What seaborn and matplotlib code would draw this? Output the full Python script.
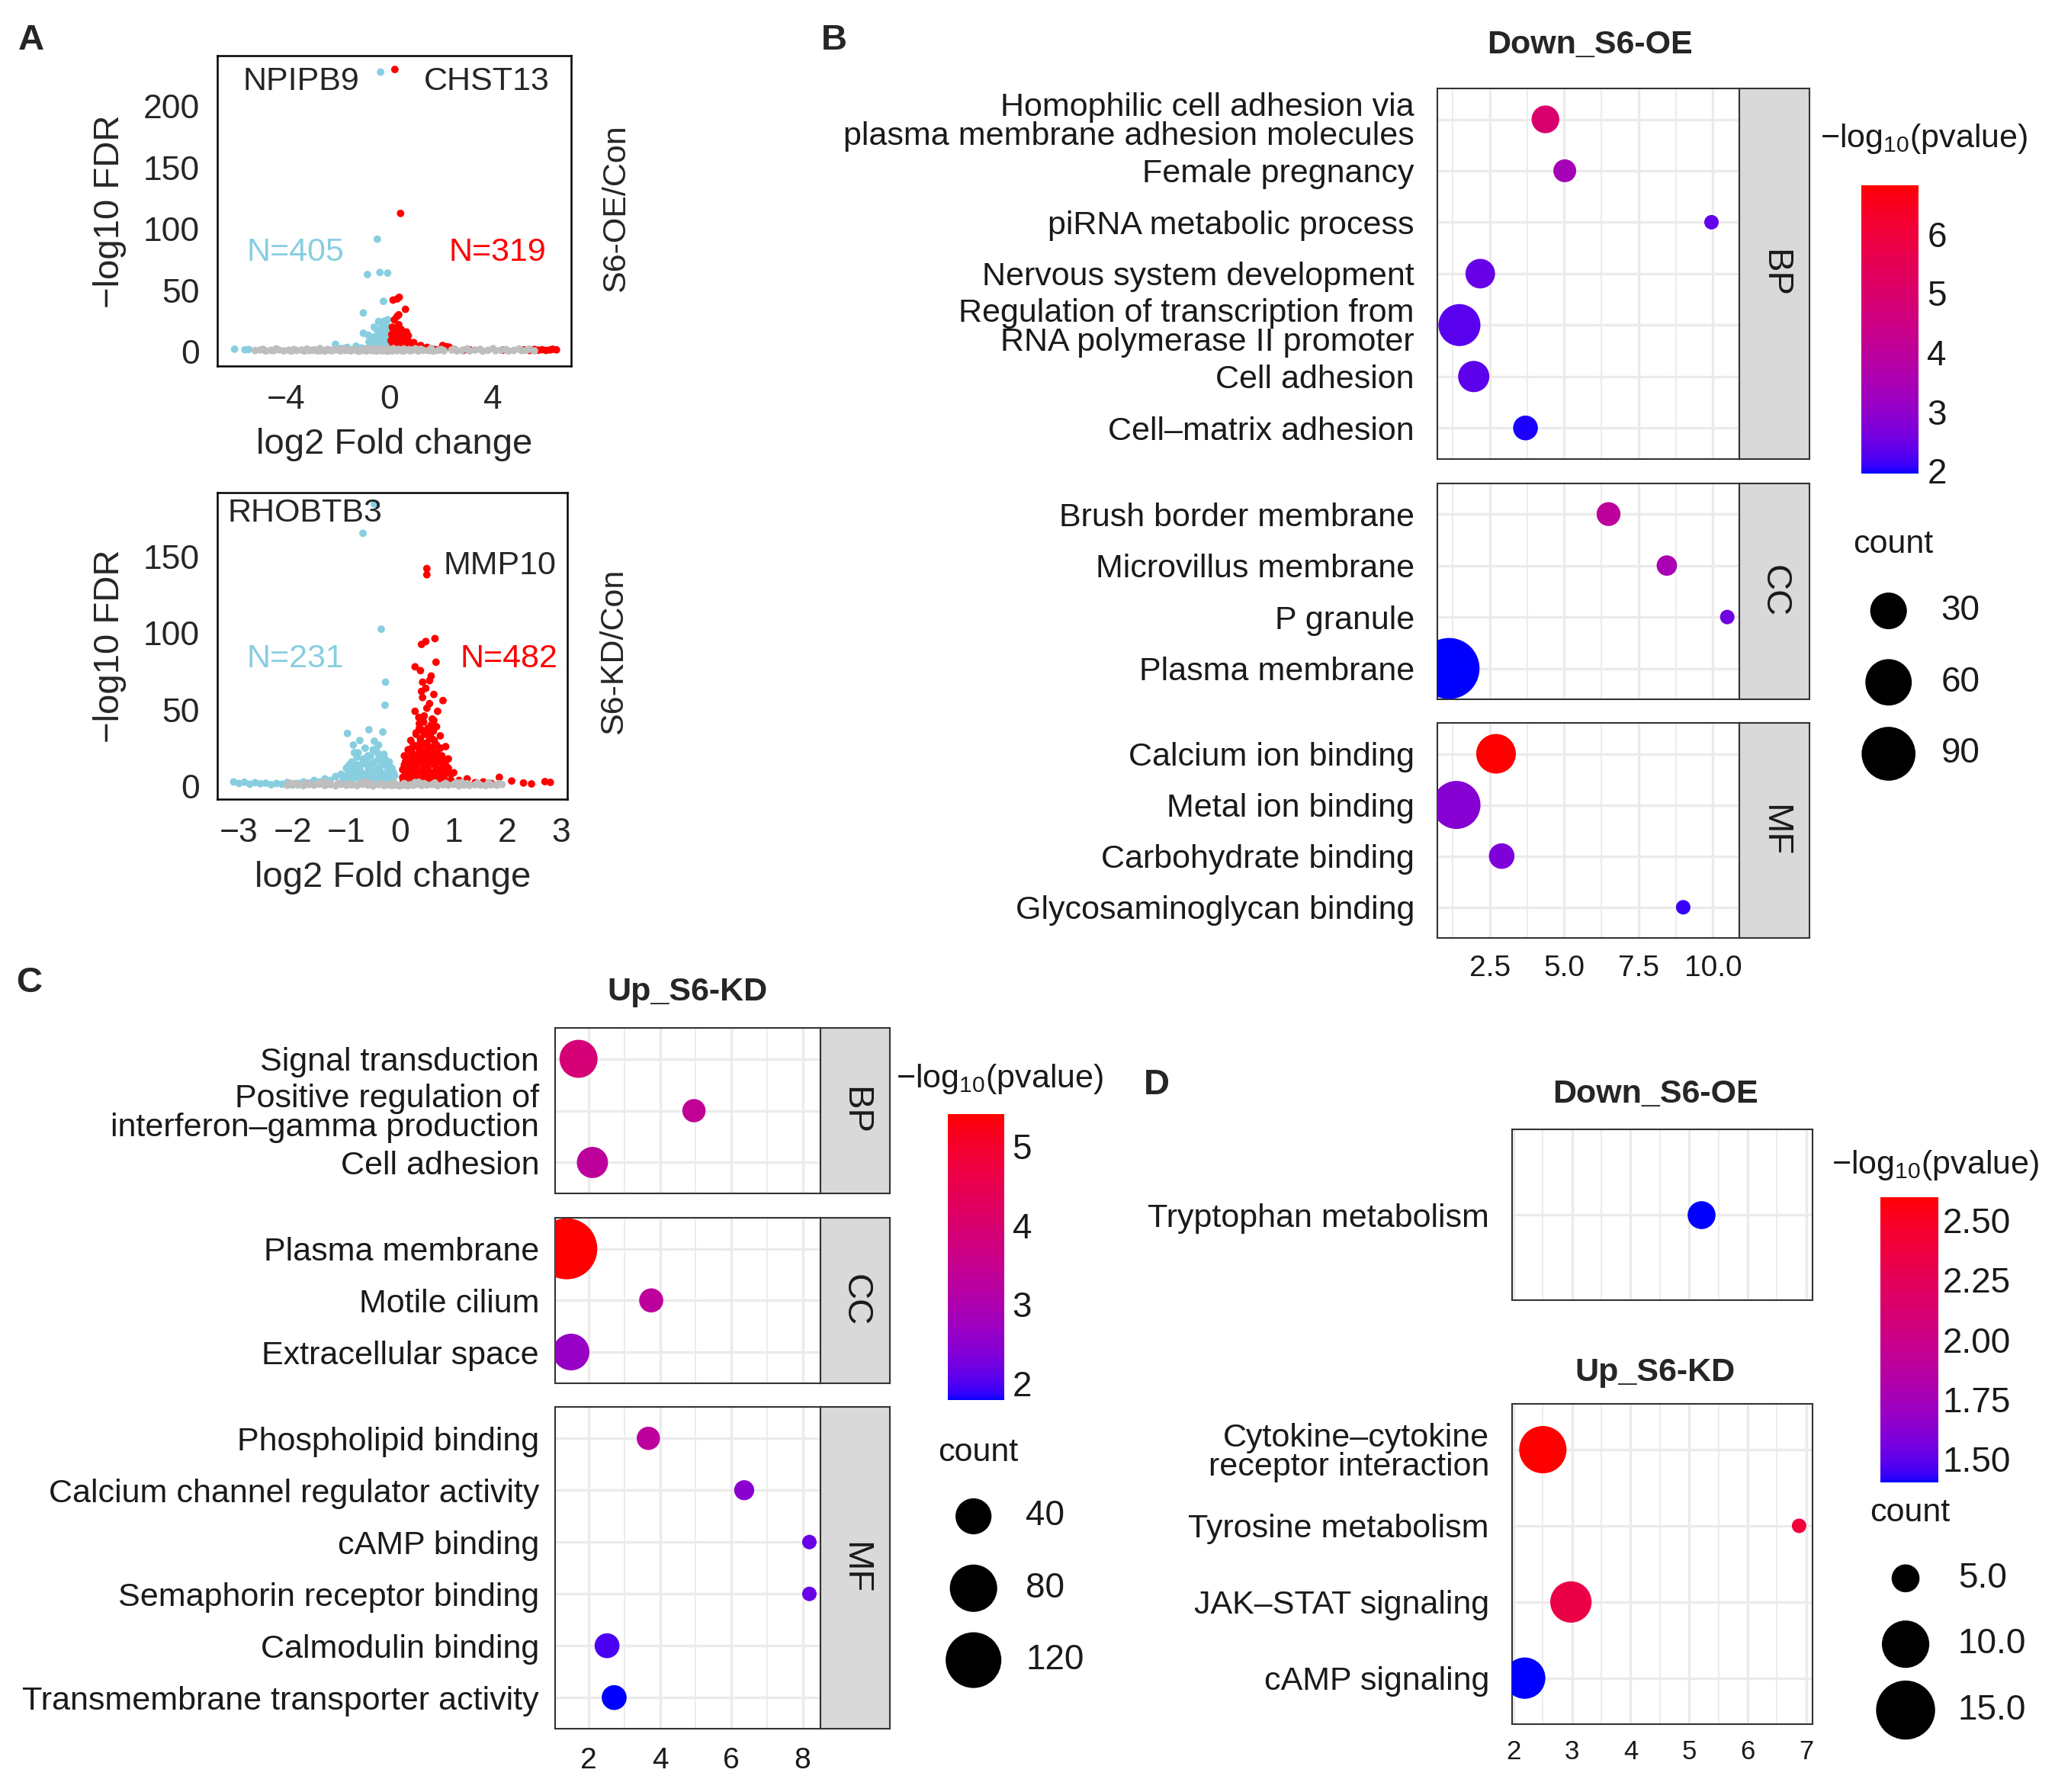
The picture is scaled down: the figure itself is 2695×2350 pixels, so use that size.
import numpy as np
import pandas as pd
import matplotlib
matplotlib.use("Agg")
import matplotlib.pyplot as plt
import seaborn as sns
from matplotlib.colors import ListedColormap, Normalize
from matplotlib.cm import ScalarMappable

sns.set_style("white")
plt.rcParams["font.family"] = ["Liberation Sans", "DejaVu Sans"]
plt.rcParams["mathtext.fontset"] = "custom"
plt.rcParams["mathtext.rm"] = "Liberation Sans"

# ---------------- Panel A: volcano points (log2FC, -log10 FDR) ----------------
OE_NS_X = [-5.2, -5.0, -4.8, -4.6, -4.5, -4.3, -4.1, -3.9, -3.8, -3.6,
           -3.4, -3.3, -3.1, -2.9, -2.8, -2.6, -2.5, -2.3, -2.2, -2.0,
           -1.9, -1.7, -1.6, -1.5, -1.3, -1.2, -1.1, -1.0, -0.9, -0.8,
           -0.7, -0.6, -0.5, -0.4, -0.3, -0.2, -0.1, 0.0, 0.1, 0.2,
           0.3, 0.4, 0.5, 0.6, 0.8, 0.9, 1.1, 1.3, 1.5, 1.7,
           1.9, 2.1, 2.4, 2.6, 2.8, 3.1, 3.3, 3.6, 3.8, 4.1,
           4.3, 4.6, 4.8, 5.1, 5.3, 5.6,
           -4.9, -4.4, -3.7, -3.2, -2.7, -2.4, -2.1, -1.8, -1.4, -0.95,
           -0.65, -0.45, -0.25, -0.05, 0.15, 0.35, 0.55, 0.75, 1.0, 1.2,
           1.6, 2.0, 2.5, 3.0, 3.5, 4.0, 4.5, 5.0, 5.4, -0.85]
OE_NS_Y = [0.9, 1.4, 0.6, 1.1, 0.8, 1.5, 0.7, 1.2, 0.5, 1.0,
           1.3, 0.6, 0.9, 1.4, 0.7, 1.1, 0.5, 1.2, 0.8, 1.5,
           0.6, 1.0, 1.3, 0.7, 1.1, 0.4, 0.9, 1.2, 0.6, 1.4,
           0.8, 1.0, 0.5, 1.3, 0.7, 1.1, 0.4, 0.9, 0.6, 1.2,
           0.8, 1.4, 0.5, 1.0, 0.7, 1.3, 0.6, 1.1, 0.9, 0.5,
           1.2, 0.8, 1.4, 0.6, 1.0, 0.7, 1.3, 0.5, 1.1, 0.8,
           1.2, 0.6, 1.0, 0.9, 1.3, 0.7,
           1.9, 2.3, 1.7, 2.1, 2.5, 1.8, 2.2, 2.6, 1.9, 2.4,
           2.0, 2.7, 1.8, 2.3, 2.5, 1.9, 2.2, 1.7, 2.4, 2.0,
           2.6, 1.8, 2.1, 2.3, 1.9, 2.5, 1.7, 2.2, 2.0, 2.1]
OE_DN_X = [-6.0, -5.6, -5.45, -3.0, -2.7, -2.3, -2.1, -1.9, -1.65, -1.5,
           -1.3, -1.1, -1.02, -1.02, -0.9, -0.86, -0.83, -0.8, -0.75, -0.7,
           -0.65, -0.6, -0.55, -0.5, -0.48, -0.45, -0.43, -0.4, -0.38, -0.35,
           -0.3, -0.28, -0.25, -0.24, -0.2, -0.18, -0.15, -0.12, -0.1, -0.08,
           -0.06, -0.35, -0.7, -0.6, -0.5, -0.3, -0.2, -0.15, -0.1, -0.4,
           -0.25, -0.55, -0.05, -0.05, -0.08, -0.12, -0.18, -0.22, -0.27, -0.33,
           -0.38, -0.45, -0.5, -0.62, -0.68, -0.72, -0.02, -0.03]
OE_DN_Y = [2.0, 1.5, 1.8, 1.2, 0.9, 1.0, 6.0, 2.5, 3.5, 1.5,
           4.5, 3.0, 31.5, 15.0, 2.0, 62.8, 13.5, 8.0, 5.0, 10.0,
           6.5, 12.0, 4.0, 18.0, 91.6, 9.0, 24.6, 15.0, 64.5, 7.0,
           20.0, 12.0, 3.0, 41.0, 16.0, 8.0, 22.0, 11.0, 5.0, 64.0,
           14.0, 227.7, 2.5, 20.0, 11.0, 6.0, 25.0, 13.0, 19.0, 4.5,
           9.0, 7.5, 20.0, 8.0, 26.0, 17.0, 21.0, 18.0, 15.0, 14.0,
           10.0, 13.0, 6.0, 8.0, 5.0, 3.5, 11.0, 3.5]
OE_UP_X = [0.2, 0.42, 0.29, 0.37, 0.13, 0.61, 0.29, 0.35, 0.21, 0.4,
           0.45, 0.1, 0.15, 0.25, 0.3, 0.5, 0.55, 0.6, 0.7, 0.75,
           0.8, 0.85, 0.93, 1.0, 1.1, 1.2, 1.3, 1.45, 1.57, 1.7,
           1.85, 2.05, 2.2, 2.3, 2.5, 2.85, 3.1, 4.37, 5.2, 5.4,
           5.6, 5.75, 5.9, 6.05, 6.2, 6.3, 6.45, 0.12, 0.08, 0.18,
           0.05, 0.22, 0.65, 0.35, 0.15, 0.25, 0.33, 0.45, 0.62, 0.72,
           0.9, 0.05]
OE_UP_Y = [229.8, 112.6, 43.0, 44.3, 42.0, 34.5, 28.8, 30.0, 17.0, 15.5,
           18.0, 20.0, 12.0, 10.0, 6.0, 8.0, 12.0, 5.0, 9.0, 4.0,
           7.0, 3.0, 7.4, 4.5, 3.0, 5.0, 2.5, 3.5, 1.2, 2.0,
           1.5, 5.0, 4.0, 3.7, 2.0, 1.0, 1.5, 1.2, 1.5, 1.0,
           1.8, 1.2, 1.6, 1.0, 1.4, 2.0, 1.5, 5.0, 14.0, 26.0,
           9.0, 3.0, 16.0, 22.0, 18.0, 14.0, 11.0, 6.0, 10.0, 13.0,
           5.0, 3.0]

KD_NS_X = [-2.1, -2.0, -1.9, -1.8, -1.7, -1.6, -1.5, -1.4, -1.3, -1.2,
           -1.1, -1.0, -0.9, -0.8, -0.7, -0.6, -0.5, -0.4, -0.3, -0.25,
           -0.2, -0.15, -0.1, -0.05, 0.0, 0.05, 0.1, 0.15, 0.2, 0.25,
           0.3, 0.4, 0.5, 0.6, 0.7, 0.8, 0.9, 1.0, 1.1, 1.2,
           1.3, 1.4, 1.5, 1.6, 1.7, 1.8, 1.9,
           -1.95, -1.75, -1.55, -1.35, -1.15, -0.95, -0.75, -0.55, -0.35, -0.12,
           0.08, 0.28, 0.45, 0.65, 0.85, 1.05, 1.25, 1.45, 1.65, 1.85,
           -1.45, -0.65, 0.35, 1.15, -2.05]
KD_NS_Y = [0.8, 1.5, 1.0, 0.6, 1.3, 0.9, 1.6, 0.7, 1.2, 0.5,
           1.4, 0.8, 1.1, 0.6, 1.5, 0.9, 0.4, 1.2, 0.7, 1.0,
           1.4, 0.6, 1.1, 0.8, 0.5, 1.3, 0.9, 0.6, 1.2, 0.8,
           1.5, 0.7, 1.0, 1.3, 0.6, 1.1, 0.8, 1.4, 0.5, 1.0,
           0.7, 1.2, 0.9, 0.6, 1.1, 0.8, 1.3,
           2.0, 2.4, 1.8, 2.6, 2.1, 1.9, 2.5, 2.2, 1.8, 2.4,
           2.0, 2.6, 1.9, 2.3, 2.1, 2.5, 1.8, 2.2, 2.4, 1.9,
           2.7, 2.9, 2.8, 2.6, 2.2]
KD_DN_X = [-3.1, -3.0, -2.9, -2.8, -2.7, -2.6, -2.5, -2.4, -2.3, -2.2,
           -2.1, -2.0, -1.9, -1.8, -1.7, -1.6, -1.5, -1.4, -1.3, -1.2,
           -1.1, -1.05, -1.0, -0.98, -0.95, -0.9, -0.87, -0.85, -0.8, -0.75,
           -0.75, -0.7, -0.69, -0.65, -0.6, -0.58, -0.55, -0.5, -0.48, -0.48,
           -0.45, -0.45, -0.4, -0.38, -0.35, -0.35, -0.32, -0.3, -0.28, -0.27,
           -0.25, -0.2, -0.18, -0.15, -0.12, -0.1, -0.6, -0.9, -0.5, -1.0,
           -0.95, -0.82, -0.78, -0.72, -0.62, -0.52, -0.42, -0.38, -0.33, -0.28,
           -0.22, -0.16, -0.65, -0.4, -0.85,
           -1.08, -1.02, -0.96, -0.92, -0.88, -0.84, -0.8, -0.76, -0.72, -0.68,
           -0.64, -0.6, -0.56, -0.52, -0.48, -0.44, -0.4, -0.36, -0.32, -0.28,
           -0.24, -0.2, -0.16, -0.12, -0.9, -0.7, -0.5, -0.3, -0.8, -0.6]
KD_DN_Y = [3.0, 2.0, 2.8, 1.5, 2.5, 1.8, 2.2, 1.2, 2.0, 1.5,
           2.6, 1.0, 2.0, 3.0, 2.2, 4.0, 3.0, 5.0, 4.0, 6.5,
           8.0, 5.0, 12.0, 34.6, 9.0, 16.0, 27.0, 6.0, 19.0, 30.0,
           11.0, 15.0, 165.0, 8.0, 13.0, 37.0, 20.0, 24.0, 29.5, 184.0,
           24.0, 10.0, 18.0, 6.0, 102.5, 14.0, 35.5, 21.0, 53.0, 68.0,
           9.0, 16.0, 5.0, 12.0, 3.0, 7.0, 3.5, 3.0, 2.0, 4.0,
           14.0, 10.0, 22.0, 6.0, 17.0, 14.0, 22.0, 12.0, 8.0, 18.0,
           11.0, 8.0, 25.0, 27.0, 22.0,
           3.0, 7.0, 5.0, 11.0, 8.0, 14.0, 6.0, 12.0, 9.0, 18.0,
           5.0, 9.0, 11.0, 7.0, 16.0, 5.0, 12.0, 9.0, 15.0, 6.0,
           13.0, 10.0, 4.0, 9.0, 6.0, 4.0, 5.0, 3.0, 14.0, 20.0]
KD_UP_X = [0.5, 0.5, 0.4, 0.48, 0.65, 0.67, 0.28, 0.38, 0.42, 0.55,
           0.4, 0.48, 0.63, 0.8, 0.55, 0.7, 0.28, 0.63, 0.36, 0.45,
           0.52, 0.3, 0.75, 0.2, 0.6, 0.42, 0.85, 0.15, 0.55, 0.35,
           0.7, 0.25, 0.9, 0.1, 0.48, 0.65, 0.3, 0.8, 0.05, 0.4,
           0.6, 0.2, 0.95, 0.12, 0.75, 0.35, 0.55, 0.08, 0.9, 1.0,
           1.1, 1.25, 1.4, 1.55, 1.7, 1.85, 2.08, 2.3, 2.45, 2.7,
           2.8, 0.45, 0.58, 0.25, 0.68, 0.38, 0.5, 0.18, 0.72, 0.85,
           0.1, 0.15, 0.22, 0.28, 0.32, 0.38, 0.42, 0.46, 0.52, 0.58,
           0.62, 0.66, 0.7, 0.76, 0.82, 0.88, 0.05, 0.18, 0.3, 0.45,
           0.55, 0.62, 0.35, 0.5, 0.42, 0.58, 0.25, 0.75, 0.08, 0.95,
           0.06, 0.1, 0.14, 0.18, 0.22, 0.26, 0.3, 0.34, 0.38, 0.42,
           0.46, 0.5, 0.54, 0.58, 0.62, 0.66, 0.7, 0.74, 0.78, 0.82,
           0.86, 0.9, 0.08, 0.13, 0.19, 0.24, 0.29, 0.33, 0.37, 0.41,
           0.47, 0.51, 0.56, 0.6, 0.64, 0.69, 0.73, 0.77, 0.81, 0.87,
           0.12, 0.2, 0.27, 0.34, 0.4, 0.47, 0.53, 0.6, 0.67, 0.73,
           0.3, 0.4, 0.48, 0.56, 0.64, 0.36, 0.44, 0.52, 0.6, 0.68]
KD_UP_Y = [142.0, 138.0, 92.6, 94.5, 96.4, 81.0, 78.0, 75.5, 68.0, 69.0,
           62.0, 64.0, 60.0, 56.0, 54.0, 49.0, 49.0, 43.0, 41.0, 46.0,
           38.0, 35.0, 33.0, 30.0, 31.0, 28.0, 26.0, 24.0, 25.0, 22.0,
           21.0, 19.0, 18.0, 16.0, 17.0, 15.0, 13.0, 12.0, 11.0, 10.0,
           9.0, 8.0, 8.0, 6.0, 5.5, 4.0, 3.0, 2.5, 3.5, 9.0,
           4.0, 5.0, 2.5, 3.0, 2.0, 6.0, 3.6, 2.3, 1.7, 3.2,
           2.7, 34.0, 40.0, 27.0, 27.0, 31.0, 20.0, 14.0, 11.0, 14.0,
           5.0, 10.0, 22.0, 12.0, 26.0, 18.0, 8.0, 23.0, 12.0, 19.0,
           5.0, 22.0, 8.0, 17.0, 7.0, 10.0, 6.0, 3.0, 2.5, 14.0,
           31.0, 36.0, 45.0, 51.0, 58.0, 72.0, 20.0, 25.0, 20.0, 4.0,
           4.0, 8.0, 13.0, 17.0, 25.0, 10.0, 20.0, 15.0, 24.0, 14.0,
           28.0, 9.0, 22.0, 16.0, 26.0, 13.0, 18.0, 9.0, 20.0, 15.0,
           9.0, 12.0, 14.0, 19.0, 11.0, 16.0, 8.0, 18.0, 28.0, 21.0,
           10.0, 27.0, 15.0, 7.0, 20.0, 11.0, 16.0, 19.0, 3.0, 11.0,
           2.5, 4.0, 6.0, 3.0, 5.0, 2.5, 6.0, 4.0, 3.0, 2.5,
           34.0, 37.0, 28.0, 33.0, 30.0, 38.0, 42.0, 34.0, 44.0, 39.0]

# ---------------- Panel B: GO terms, Down_S6-OE ----------------
B_TERMS = ["Homophilic cell adhesion via\nplasma membrane adhesion molecules",
           "Female pregnancy", "piRNA metabolic process", "Nervous system development",
           "Regulation of transcription from\nRNA polymerase II promoter",
           "Cell adhesion", "Cell\u2013matrix adhesion",
           "Brush border membrane", "Microvillus membrane", "P granule", "Plasma membrane",
           "Calcium ion binding", "Metal ion binding", "Carbohydrate binding",
           "Glycosaminoglycan binding"]
B_CAT = ["BP", "BP", "BP", "BP", "BP", "BP", "BP", "CC", "CC", "CC", "CC",
         "MF", "MF", "MF", "MF"]
B_RATIO = [4.37, 5.02, 9.95, 2.18, 1.48, 1.96, 3.70, 6.49, 8.45, 10.48, 1.13,
           2.71, 1.38, 2.90, 9.00]
B_LOGP = [4.97, 3.40, 2.40, 2.44, 2.30, 2.35, 2.00, 4.00, 3.50, 2.54, 1.955,
          6.82, 2.83, 2.73, 2.10]
B_COUNT = [12, 6, 2, 15, 45, 18, 8, 7, 4, 2, 125, 38, 66, 9, 2]

# ---------------- Panel C: GO terms, Up_S6-KD ----------------
C_TERMS = ["Signal transduction", "Positive regulation of\ninterferon\u2013gamma production",
           "Cell adhesion", "Plasma membrane", "Motile cilium", "Extracellular space",
           "Phospholipid binding", "Calcium channel regulator activity", "cAMP binding",
           "Semaphorin receptor binding", "Calmodulin binding",
           "Transmembrane transporter activity"]
C_CAT = ["BP", "BP", "BP", "CC", "CC", "CC", "MF", "MF", "MF", "MF", "MF", "MF"]
C_RATIO = [1.71, 4.95, 2.10, 1.38, 3.75, 1.50, 3.67, 6.36, 8.19, 8.19, 2.51, 2.71]
C_LOGP = [3.88, 3.40, 3.30, 5.40, 3.30, 2.66, 3.30, 2.50, 2.15, 2.15, 1.97, 1.79]
C_COUNT = [46, 15, 28, 150, 16, 42, 15, 12, 10, 10, 17, 17]

# ---------------- Panel D: KEGG pathways ----------------
D_OE_TERMS = ["Tryptophan metabolism"]
D_OE_RATIO = [5.21]
D_OE_LOGP = [1.40]
D_OE_COUNT = [5]
D_KD_TERMS = ["Cytokine\u2013cytokine\nreceptor interaction", "Tyrosine metabolism",
              "JAK\u2013STAT signaling", "cAMP signaling"]
D_KD_RATIO = [2.50, 6.88, 2.98, 2.19]
D_KD_LOGP = [2.595, 2.40, 2.33, 1.40]
D_KD_COUNT = [10, 4, 8, 8]

B_SIZE_BREAKS = [30, 60, 90]
C_SIZE_BREAKS = [40, 80, 120]
D_SIZE_BREAKS = [5, 10, 15]
D_SIZE_LIM = (4, 16)

# layout grid (reference scaled to 1568 x 1367)
W, H = 1568.0, 1367.0
TXT = "#1a1a1a"
EDGE = "#333333"
GRID = "#EBEBEB"
LIGHTBLUE = "#87CEE0"


def box(x0, y0, x1, y1):
    return [x0 / W, 1 - y1 / H, (x1 - x0) / W, (y1 - y0) / H]


def ftext(fig, x, y, s, **kw):
    return fig.text(x / W, 1 - y / H, s, **kw)


def lab_ramp(lo, hi, n=256):
    # ggplot-like gradient: interpolate in CIE Lab
    m = np.array([[0.4124, 0.3576, 0.1805], [0.2126, 0.7152, 0.0722], [0.0193, 0.1192, 0.9505]])
    white = np.array([0.95047, 1.0, 1.08883])

    def to_lab(rgb):
        c = np.array(rgb, dtype=float)
        c = np.where(c > 0.04045, ((c + 0.055) / 1.055) ** 2.4, c / 12.92)
        xyz = m @ c / white
        f = np.where(xyz > 0.008856, np.cbrt(xyz), 7.787 * xyz + 16 / 116)
        return np.array([116 * f[1] - 16, 500 * (f[0] - f[1]), 200 * (f[1] - f[2])])

    a, b = to_lab(lo), to_lab(hi)
    t = np.linspace(0, 1, n)
    lab = a[:, None] * (1 - t) + b[:, None] * t
    fy = (lab[0] + 16) / 116
    f = np.vstack([fy + lab[1] / 500, fy, fy - lab[2] / 200])
    xyz = np.where(f ** 3 > 0.008856, f ** 3, (f - 16 / 116) / 7.787) * white[:, None]
    lin = np.clip(np.linalg.inv(m) @ xyz, 0, 1)
    rgb = np.where(lin > 0.0031308, 1.055 * lin ** (1 / 2.4) - 0.055, 12.92 * lin)
    return ListedColormap(np.clip(rgb, 0, 1).T)


CMAP = lab_ramp((0, 0, 1), (1, 0, 0))


def dot_area(c, lo, hi):
    d = 19 + 61 * np.sqrt(max(c - lo, 0) / (hi - lo))  # diameter in px
    return (d * 0.72) ** 2


# ---------------- volcano ----------------
def volcano(fig, rect, ns, dn, up, xlim, ylim, xticks, yticks, xlab_y, ylab_x):
    ax = fig.add_axes(rect)
    df = pd.concat([
        pd.DataFrame({"fc": dn[0], "fdr": dn[1], "grp": "down"}),
        pd.DataFrame({"fc": up[0], "fdr": up[1], "grp": "up"}),
        pd.DataFrame({"fc": ns[0], "fdr": ns[1], "grp": "ns"}),
    ], ignore_index=True)
    sns.scatterplot(data=df, x="fc", y="fdr", hue="grp",
                    palette={"ns": "#BEBEBE", "down": LIGHTBLUE, "up": "#FF0000"},
                    s=50, linewidth=0, legend=False, ax=ax)
    ax.set_xlim(xlim)
    ax.set_ylim(ylim)
    ax.set_xticks(xticks)
    ax.set_yticks(yticks)
    ax.tick_params(length=10, width=1.8, pad=7, labelsize=32, color="black")
    for sp in ax.spines.values():
        sp.set_color("black")
        sp.set_linewidth(1.8)
    ax.set_xlabel("log2 Fold change", fontsize=34, va="center")
    ax.set_ylabel("\u2212log10 FDR", fontsize=34, va="center")
    ax.xaxis.set_label_coords(0.5, xlab_y)
    ax.yaxis.set_label_coords(ylab_x, 0.5)
    return ax


# ---------------- dot plots ----------------
def dot_panel(fig, rect, terms, ratio, logp, count, xlim, xticks, minor, norm, sizes,
              show_ticks, show_labels, xfs, ypad, ylen, xlen):
    ax = fig.add_axes(rect)
    df = pd.DataFrame({"term": terms, "ratio": ratio, "logp": logp, "count": count})
    df["pos"] = np.arange(len(df))
    sns.scatterplot(data=df, x="ratio", y="pos", hue="logp", palette=CMAP, hue_norm=norm,
                    size="count", sizes=sizes, linewidth=0, legend=False, ax=ax, zorder=3)
    ax.set_xlim(xlim)
    ax.set_ylim(len(df) - 1 + 0.6, -0.6)
    ax.set_yticks(df["pos"])
    ax.set_yticklabels(df["term"])
    for t in ax.get_yticklabels():
        t.set_linespacing(0.95)
    ax.set_xticks(xticks)
    ax.set_xticks(minor, minor=True)
    ax.set_xlabel("")
    ax.set_ylabel("")
    ax.set_axisbelow(True)
    ax.grid(True, which="major", color=GRID, lw=2.4)
    ax.grid(True, which="minor", axis="x", color=GRID, lw=1.3)
    ax.tick_params(axis="y", length=ylen, width=1.8, color=EDGE, pad=ypad,
                   labelsize=31, labelcolor=TXT)
    ax.tick_params(axis="x", length=xlen if show_ticks else 0, width=1.8, color=EDGE,
                   pad=4, labelsize=xfs, labelcolor=TXT, labelbottom=show_labels)
    ax.tick_params(which="minor", length=0)
    for sp in ax.spines.values():
        sp.set_color(EDGE)
        sp.set_linewidth(1.5)
    return ax


def strip(fig, rect, label):
    sax = fig.add_axes(rect)
    sax.set_facecolor("#D9D9D9")
    sax.set_xticks([])
    sax.set_yticks([])
    for sp in sax.spines.values():
        sp.set_color(EDGE)
        sp.set_linewidth(1.5)
    sax.text(0.5, 0.5, label, rotation=270, ha="center", va="center",
             fontsize=34, color=TXT, transform=sax.transAxes)


def colorbar(fig, rect, norm, ticks, labels, pad, title_xy):
    cax = fig.add_axes(rect)
    cb = fig.colorbar(ScalarMappable(norm=norm, cmap=CMAP), cax=cax)
    cb.outline.set_visible(False)
    cb.set_ticks(ticks)
    cb.set_ticklabels(labels)
    cax.minorticks_off()
    cax.tick_params(direction="in", left=True, right=True, length=11, width=1.5,
                    color="white", labelcolor=TXT, labelsize=33, pad=pad)
    ftext(fig, title_xy[0], title_xy[1], r"$\mathregular{-log_{10}(pvalue)}$",
          fontsize=31, ha="left", va="center", color=TXT)


def size_legend(fig, cx, ys, breaks, labels, lim, title_xy):
    step = (ys[-1] - ys[0]) / (len(ys) - 1)
    lax = fig.add_axes(box(cx - 45, ys[0] - step / 2, cx + 110, ys[-1] + step / 2))
    lax.axis("off")
    lax.set_xlim(-45, 110)
    lax.set_ylim(len(breaks) - 0.5, -0.5)
    lax.scatter([0] * len(breaks), range(len(breaks)),
                s=[dot_area(b, *lim) for b in breaks], color="black", linewidths=0)
    for i, lab in enumerate(labels):
        lax.text(40, i, lab, fontsize=33, va="center", ha="left", color=TXT)
    ftext(fig, title_xy[0], title_xy[1], "count", fontsize=31, ha="left", va="center",
          color=TXT)


fig = plt.figure(figsize=(26.95, 23.5), dpi=100)

# ---- A ----
ax_a1 = volcano(fig, box(166, 42.5, 436, 279.5), (OE_NS_X, OE_NS_Y), (OE_DN_X, OE_DN_Y),
                (OE_UP_X, OE_UP_Y), (-6.66, 7.03), (-12, 241), [-4, 0, 4],
                [0, 50, 100, 150, 200], -0.251, -0.305)
ax_a1.text(-3.42, 220, "NPIPB9", fontsize=31, ha="center", va="center")
ax_a1.text(3.76, 220, "CHST13", fontsize=31, ha="center", va="center")
ax_a1.text(-3.64, 81, "N=405", fontsize=31, ha="center", va="center", color=LIGHTBLUE)
ax_a1.text(4.16, 81, "N=319", fontsize=31, ha="center", va="center", color="#FF0000")

ax_a2 = volcano(fig, box(166, 376, 433, 609.7), (KD_NS_X, KD_NS_Y), (KD_DN_X, KD_DN_Y),
                (KD_UP_X, KD_UP_Y), (-3.4, 3.12), (-8.3, 191.3), [-3, -2, -1, 0, 1, 2, 3],
                [0, 50, 100, 150], -0.257, -0.309)
ax_a2.text(-1.77, 178, "RHOBTB3", fontsize=31, ha="center", va="center")
ax_a2.text(1.86, 144, "MMP10", fontsize=31, ha="center", va="center")
ax_a2.text(-1.95, 83, "N=231", fontsize=31, ha="center", va="center", color=LIGHTBLUE)
ax_a2.text(2.03, 83, "N=482", fontsize=31, ha="center", va="center", color="#FF0000")

ftext(fig, 470, 158.7, "S6-OE/Con", fontsize=31, rotation=90, ha="center", va="center")
ftext(fig, 468.3, 497.2, "S6-KD/Con", fontsize=31, rotation=90, ha="center", va="center")

# ---- B ----
b_norm = Normalize(min(B_LOGP), max(B_LOGP))
b_lim = (min(B_COUNT), max(B_COUNT))
b_sizes = {c: dot_area(c, *b_lim) for c in set(B_COUNT)}
b_rows = {"BP": (67.5, 350), "CC": (368.6, 533.5), "MF": (551.6, 715.5)}
for cat, (y0, y1) in b_rows.items():
    idx = [i for i, c in enumerate(B_CAT) if c == cat]
    last = cat == "MF"
    dot_panel(fig, box(1097, y0, 1327, y1), [B_TERMS[i] for i in idx],
              [B_RATIO[i] for i in idx], [B_LOGP[i] for i in idx], [B_COUNT[i] for i in idx],
              (0.75, 10.88), [2.5, 5.0, 7.5, 10.0], [1.25, 3.75, 6.25, 8.75], b_norm, b_sizes,
              last, last, 28, 13, 9, 12)
    strip(fig, box(1327, y0, 1380.5, y1), cat)
ftext(fig, 1212.9, 34.6, "Down_S6-OE", fontsize=31, fontweight="bold", ha="center", va="center")
colorbar(fig, box(1420, 141.5, 1464, 361), b_norm, [2, 3, 4, 5, 6], ["2", "3", "4", "5", "6"],
         8, (1389, 106))
size_legend(fig, 1441, [466, 520.5, 575], B_SIZE_BREAKS, ["30", "60", "90"], b_lim,
            (1413.7, 415.3))

# ---- C ----
c_norm = Normalize(min(C_LOGP), max(C_LOGP))
c_lim = (min(C_COUNT), max(C_COUNT))
c_sizes = {c: dot_area(c, *c_lim) for c in set(C_COUNT)}
c_rows = {"BP": (784, 910.5), "CC": (929, 1055), "MF": (1073.5, 1318.7)}
for cat, (y0, y1) in c_rows.items():
    idx = [i for i, c in enumerate(C_CAT) if c == cat]
    last = cat == "MF"
    dot_panel(fig, box(423.5, y0, 626, y1), [C_TERMS[i] for i in idx],
              [C_RATIO[i] for i in idx], [C_LOGP[i] for i in idx], [C_COUNT[i] for i in idx],
              (1.05, 8.5), [2, 4, 6, 8], [3, 5, 7], c_norm, c_sizes,
              last, last, 28, 5, 10, 13)
    strip(fig, box(626, y0, 679, y1), cat)
ftext(fig, 524.5, 757, "Up_S6-KD", fontsize=31, fontweight="bold", ha="center", va="center")
colorbar(fig, box(723, 850, 766, 1068), c_norm, [2, 3, 4, 5], ["2", "3", "4", "5"],
         8, (683.6, 823))
size_legend(fig, 742.8, [1156.7, 1211, 1266.4], C_SIZE_BREAKS, ["40", "80", "120"], c_lim,
            (715.6, 1108))

# ---- D ----
d_norm = Normalize(min(D_OE_LOGP + D_KD_LOGP), max(D_OE_LOGP + D_KD_LOGP))
d_sizes = {c: dot_area(c, *D_SIZE_LIM) for c in set(D_OE_COUNT + D_KD_COUNT)}
d_xlim = (1.98, 7.11)
dot_panel(fig, box(1154, 861.5, 1383, 992), D_OE_TERMS, D_OE_RATIO, D_OE_LOGP, D_OE_COUNT,
          d_xlim, [2, 3, 4, 5, 6, 7], [2.5, 3.5, 4.5, 5.5, 6.5], d_norm, d_sizes,
          True, False, 25, 11, 11, 11)
dot_panel(fig, box(1154, 1071, 1383, 1315), D_KD_TERMS, D_KD_RATIO, D_KD_LOGP, D_KD_COUNT,
          d_xlim, [2, 3, 4, 5, 6, 7], [2.5, 3.5, 4.5, 5.5, 6.5], d_norm, d_sizes,
          True, True, 25, 11, 11, 11)
ftext(fig, 1263, 835, "Down_S6-OE", fontsize=31, fontweight="bold", ha="center", va="center")
ftext(fig, 1263, 1047, "Up_S6-KD", fontsize=31, fontweight="bold", ha="center", va="center")
colorbar(fig, box(1435, 913.5, 1479, 1131), d_norm, [1.5, 1.75, 2.0, 2.25, 2.5],
         ["1.50", "1.75", "2.00", "2.25", "2.50"], 4, (1397.8, 889))
size_legend(fig, 1454, [1204, 1252, 1304.5], D_SIZE_BREAKS, ["5.0", "10.0", "15.0"],
            D_SIZE_LIM, (1426.4, 1154))

# panel letters
for letter, (x, y) in {"A": (24, 31), "B": (636.5, 31), "C": (22, 750),
                       "D": (882.6, 828)}.items():
    ftext(fig, x, y, letter, fontsize=34, fontweight="bold", ha="center", va="center")

fig.savefig("out.png", dpi=100, facecolor="white")
